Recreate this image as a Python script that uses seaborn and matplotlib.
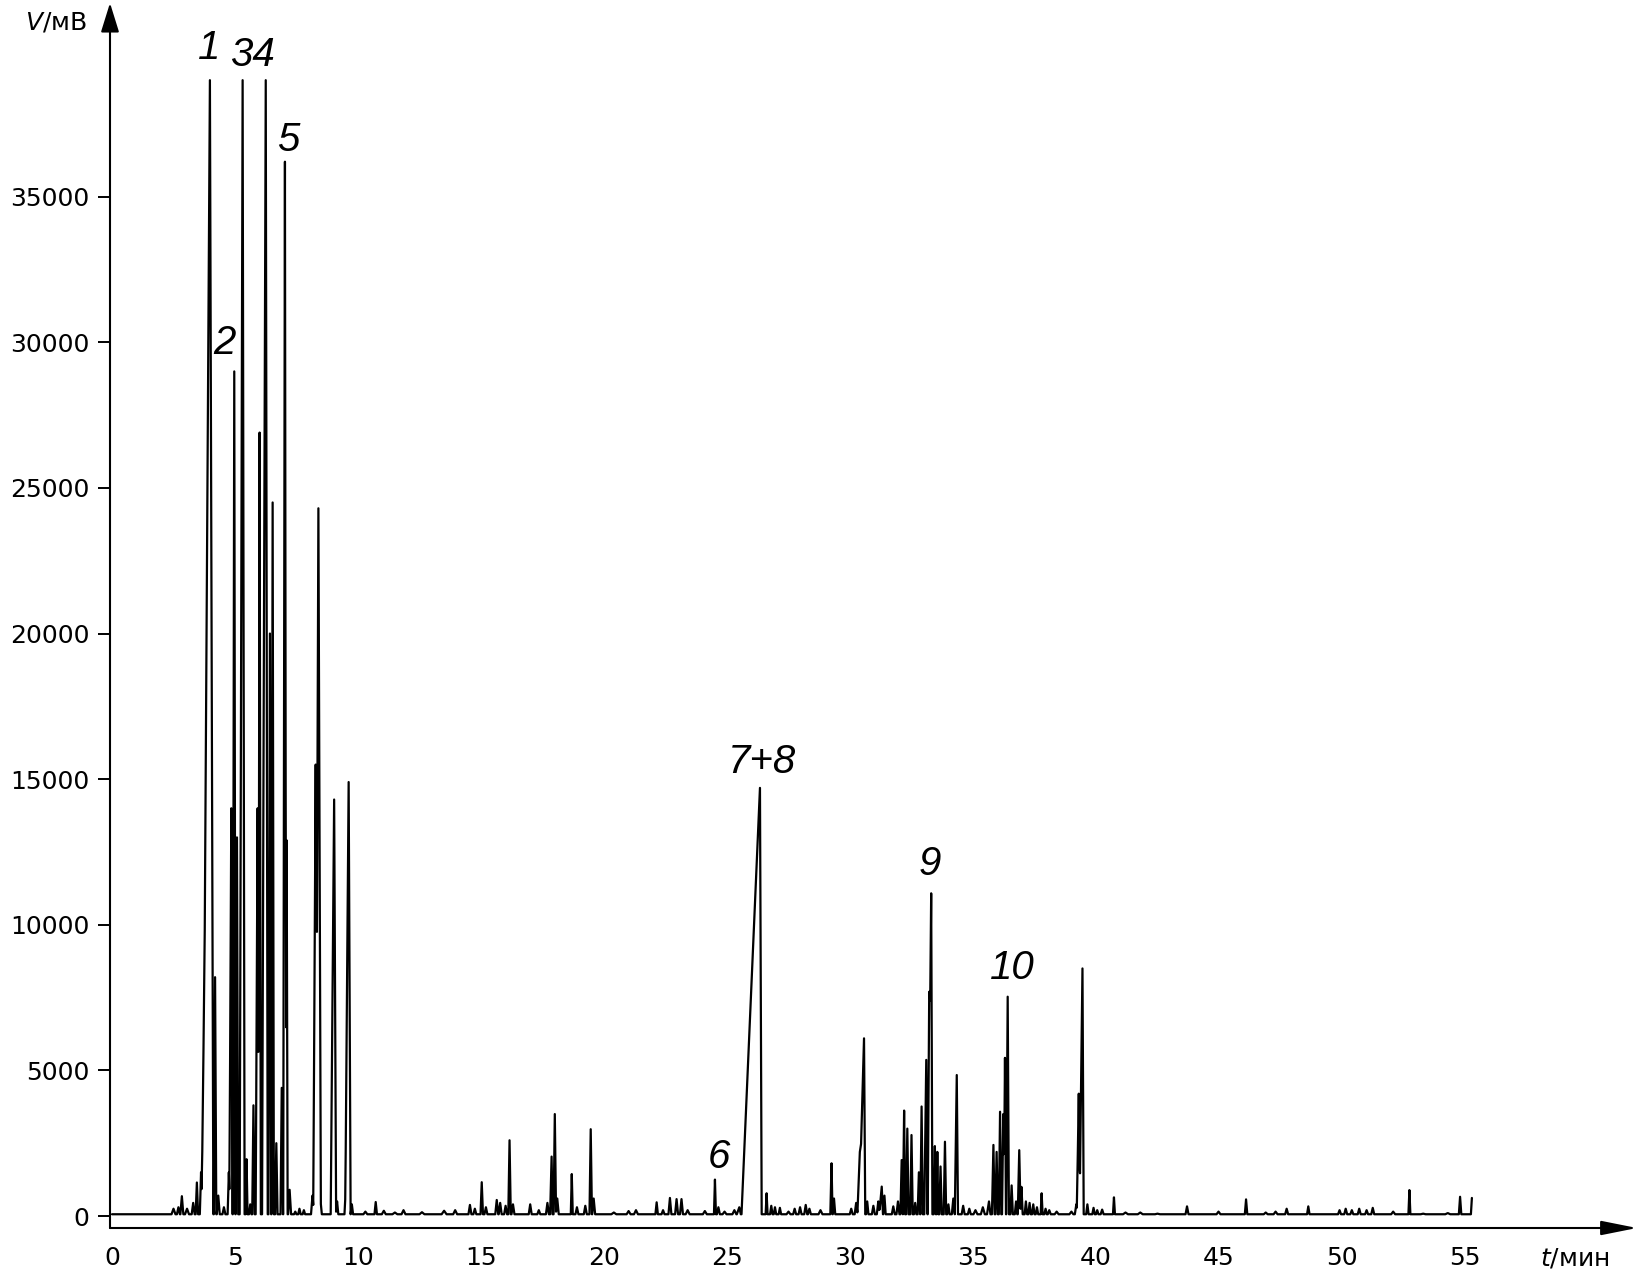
import numpy as np
import pandas as pd
import matplotlib
matplotlib.use("Agg")
import matplotlib.pyplot as plt
import seaborn as sns

# peak apex times (min), apex heights (mV) and half base widths (min)
peak_time = [
    2.50, 2.70, 2.84, 3.05, 3.30, 3.45, 3.62, 3.72, 3.98, 4.19,
    4.32, 4.55, 4.75, 4.85, 4.97, 5.08, 5.31, 5.47, 5.62, 5.75,
    5.92, 6.00, 6.25, 6.42, 6.53, 6.68, 6.90, 7.03, 7.10, 7.22,
    7.45, 7.62, 7.80, 8.15, 8.28, 8.39, 8.48, 8.95, 9.03, 9.15,
    9.50, 9.62, 9.75, 10.30, 10.72, 11.05, 11.50, 11.85, 12.60, 13.50,
    13.95, 14.55, 14.75, 15.03, 15.20, 15.64, 15.78, 16.00, 16.16, 16.30,
    17.00, 17.35, 17.70, 17.87, 18.00, 18.10, 18.69, 18.90, 19.24, 19.46,
    19.58, 20.40, 21.00, 21.30, 22.14, 22.40, 22.68, 22.95, 23.15, 23.40,
    24.10, 24.51, 24.65, 24.90, 25.30, 25.50, 26.34, 26.61, 26.80, 26.95,
    27.15, 27.50, 27.75, 27.97, 28.20, 28.35, 28.80, 29.25, 29.35, 30.05,
    30.25, 30.40, 30.57, 30.70, 30.95, 31.15, 31.29, 31.40, 31.76, 31.95,
    32.10, 32.20, 32.33, 32.50, 32.65, 32.80, 32.91, 33.10, 33.22, 33.30,
    33.45, 33.55, 33.68, 33.86, 34.00, 34.20, 34.34, 34.60, 34.85, 35.10,
    35.40, 35.65, 35.83, 35.96, 36.10, 36.23, 36.30, 36.41, 36.57, 36.75,
    36.88, 36.97, 37.15, 37.30, 37.45, 37.60, 37.79, 37.95, 38.10, 38.40,
    39.00, 39.20, 39.30, 39.45, 39.65, 39.90, 40.05, 40.25, 40.73, 41.20,
    41.80, 42.50, 43.70, 44.98, 46.10, 46.90, 47.30, 47.75, 48.63, 49.90,
    50.15, 50.40, 50.70, 51.00, 51.25, 52.08, 52.74, 53.30, 54.30, 54.80, 55.28,
]
peak_height = [
    250, 300, 680, 250, 450, 1150, 1500, 5800, 39000, 8200,
    700, 300, 1500, 14000, 29000, 13000, 39000, 1950, 400, 3800,
    14000, 26900, 39000, 20000, 24500, 2500, 4400, 36200, 12900, 900,
    150, 250, 200, 700, 15500, 24300, 500, 1200, 14300, 500,
    900, 14900, 400, 150, 480, 180, 120, 200, 130, 180,
    200, 380, 250, 1160, 300, 550, 450, 350, 2600, 400,
    400, 200, 450, 2040, 3500, 600, 1440, 300, 350, 2980,
    600, 120, 170, 200, 470, 200, 620, 580, 580, 200,
    170, 1250, 300, 150, 200, 300, 14700, 780, 350, 300,
    280, 150, 250, 300, 380, 250, 200, 1810, 600, 250,
    450, 2200, 6100, 500, 350, 500, 1010, 700, 330, 500,
    1920, 3620, 3000, 2780, 450, 1500, 3760, 5360, 7700, 11080,
    2400, 2200, 1700, 2550, 400, 600, 4840, 350, 250, 200,
    300, 500, 2440, 2200, 3580, 3500, 5430, 7530, 1050, 500,
    2260, 1000, 500, 450, 400, 300, 780, 250, 200, 150,
    150, 400, 4200, 8500, 400, 280, 200, 220, 640, 120,
    120, 80, 330, 150, 570, 120, 150, 250, 330, 200,
    250, 200, 250, 200, 280, 150, 890, 80, 100, 660, 620,
]
peak_width = [
    .08, .06, .06, .08, .06, .05, .05, .05, .14, .05,
    .06, .06, .05, .05, .05, .05, .08, .04, .05, .05,
    .05, .05, .08, .05, .05, .05, .05, .05, .04, .06,
    .05, .05, .05, .06, .05, .10, .05, .05, .08, .05,
    .05, .08, .05, .08, .05, .08, .10, .08, .10, .10,
    .08, .06, .06, .05, .06, .06, .06, .06, .05, .06,
    .06, .06, .06, .04, .05, .06, .04, .06, .06, .05,
    .06, .10, .08, .08, .05, .06, .06, .06, .06, .08,
    .08, .04, .06, .08, .08, .06, .07, .04, .05, .05,
    .05, .08, .06, .06, .06, .06, .08, .04, .05, .06,
    .06, .05, .05, .05, .06, .06, .05, .05, .06, .06,
    .05, .04, .05, .05, .05, .05, .05, .05, .04, .05,
    .04, .04, .05, .05, .05, .06, .05, .06, .06, .08,
    .08, .06, .05, .05, .05, .05, .04, .05, .05, .05,
    .05, .05, .05, .05, .05, .05, .04, .05, .06, .08,
    .08, .06, .05, .05, .05, .05, .05, .06, .04, .10,
    .10, .10, .06, .08, .05, .08, .08, .06, .05, .06,
    .06, .06, .06, .06, .06, .08, .04, .10, .10, .05, .04,
]
# fronting peaks: wider leading edge (min)
peak_front = {
    3.72: .08, 3.98: .28, 4.85: .08, 4.97: .06, 5.08: .06, 5.31: .12,
    5.92: .08, 6.25: .15, 6.42: .06, 7.03: .07, 8.28: .10, 8.39: .10,
    9.03: .14, 9.62: .14, 17.87: .06, 25.50: .10, 26.34: .75, 29.25: .05,
    30.40: .10, 30.57: .20, 31.29: .10, 32.20: .05, 33.10: .08, 33.22: .06,
    33.30: .12, 33.45: .05, 34.34: .08, 35.65: .08, 35.83: .06, 36.30: .05,
    36.41: .06, 36.88: .06, 39.30: .08, 39.45: .12,
}
baseline = 60
run_end = 55.28

peak_labels = ["1", "2", "34", "5", "6", "7+8", "9", "10"]
label_t = [3.94, 4.59, 5.69, 7.15, 24.67, 26.42, 33.25, 36.59]
label_v = [40100, 29980, 39870, 36950, 2030, 15590, 12090, 8520]

y_ticks = [0, 5000, 10000, 15000, 20000, 25000, 30000, 35000]
x_ticks = [0, 5, 10, 15, 20, 25, 30, 35, 40, 45, 50, 55]


def build_trace():
    t = np.array(peak_time)
    h = np.array(peak_height, float)
    wr = np.array(peak_width)
    wl = np.array([peak_front.get(p, w) for p, w in zip(peak_time, peak_width)])
    knots = np.concatenate([[0.0, run_end], t - wl, t, t + wr])
    knots = np.unique(np.round(knots[(knots >= 0) & (knots <= run_end)], 4))
    vals = np.full(knots.shape, float(baseline))
    for ti, hi, l, r in zip(t, h, wl, wr):
        left = (knots >= ti - l) & (knots <= ti)
        vals[left] = np.maximum(vals[left], baseline + (hi - baseline) * (knots[left] - (ti - l)) / l)
        right = (knots >= ti) & (knots <= ti + r)
        vals[right] = np.maximum(vals[right], baseline + (hi - baseline) * ((ti + r) - knots[right]) / r)
    return pd.DataFrame({"t": knots, "v": vals})


df = build_trace()

sns.set_theme(style="white")
plt.rcParams["font.family"] = ["DejaVu Sans"]
plt.rcParams["mathtext.fontset"] = "dejavusans"
plt.rcParams["text.color"] = "black"

W, H = 1642, 1269
fig = plt.figure(figsize=(W / 100, H / 100), dpi=100)
ax = fig.add_axes([110 / W, 1 - 1228 / H, (1637 - 110) / W, (1228 - 3) / H])

sns.lineplot(data=df, x="t", y="v", ax=ax, sort=False, estimator=None,
             color="black", linewidth=1.6)

ax.set_xlim((110 - 112) / 24.6, (1637 - 112) / 24.6)
ax.set_ylim(-412, 41650)
for s in ax.spines.values():
    s.set_visible(False)

ax.set_xticks(x_ticks)
ax.set_xticklabels([str(v) for v in x_ticks])
ax.set_yticks(y_ticks)
ax.set_yticklabels([str(v) for v in y_ticks])
ax.tick_params(axis="x", length=0, pad=13, labelsize=18, colors="black")
ax.tick_params(axis="y", length=8.5, width=1.4, pad=6.5, labelsize=18,
               direction="out", left=True, colors="black")
ax.set_xlabel("")
ax.set_ylabel("")

ax.annotate("", xy=(0, 1), xytext=(0, 0), xycoords="axes fraction",
            arrowprops=dict(arrowstyle="-|>,head_length=0.9,head_width=0.28",
                            lw=1.5, color="black", shrinkA=0, shrinkB=0,
                            mutation_scale=20), annotation_clip=False)
ax.annotate("", xy=(1, 0), xytext=(0, 0), xycoords="axes fraction",
            arrowprops=dict(arrowstyle="-|>,head_length=1.1,head_width=0.22",
                            lw=1.5, color="black", shrinkA=0, shrinkB=0,
                            mutation_scale=20), annotation_clip=False)

for txt, tx, ty in zip(peak_labels, label_t, label_v):
    ax.text(tx, ty, txt, fontsize=29, fontstyle="italic", family="Liberation Sans",
            ha="center", va="center", color="black")

fig.text(87 / W, 1 - 23 / H, r"$V$/мВ", fontsize=18, ha="right", va="center", color="black")
fig.text(1575 / W, 1 - 1258 / H, r"$t$/мин", fontsize=18, ha="center", va="center", color="black")

fig.savefig("out.png", dpi=100, facecolor="white")
